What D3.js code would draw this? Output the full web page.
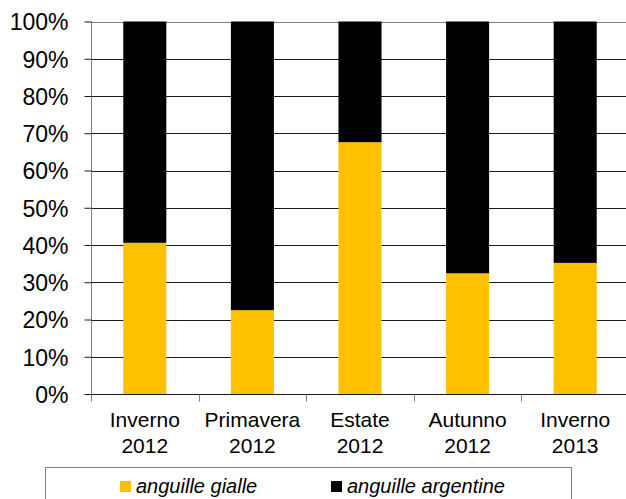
<!DOCTYPE html>
<html><head><meta charset="utf-8">
<script src="https://cdn.jsdelivr.net/npm/d3@7"></script>
<style>body{margin:0;background:#fff}svg{display:block}</style>
</head><body><svg id="c" width="626" height="499"></svg>
<script>
const categories = [["Inverno","2012"],["Primavera","2012"],["Estate","2012"],["Autunno","2012"],["Inverno","2013"]];
const gialle = [40.6, 22.5, 67.6, 32.4, 35.2];
const argentine = gialle.map(v => 100 - v);
const yTicks = [0,10,20,30,40,50,60,70,80,90,100];
const seriesNames = ["anguille gialle","anguille argentine"];
const colors = ["#FFC000","#000000"];

const svg = d3.select("#c");
const font = "Liberation Sans, Arial, sans-serif";
const x = d3.scaleBand().domain(d3.range(categories.length)).range([91, 629]).paddingInner(0.6).paddingOuter(0.3);
const y = d3.scaleLinear().domain([0,100]).range([394, 21.5]);

// gridlines
svg.append("g").selectAll("line").data(yTicks.slice(1)).join("line")
  .attr("x1", 91).attr("x2", 629)
  .attr("y1", d => Math.round(y(d)) + 0.5).attr("y2", d => Math.round(y(d)) + 0.5)
  .attr("stroke", d => d === 100 ? "#7f7f7f" : "#1a1a1a").attr("stroke-width", 1);

// bars
const stack = categories.map((c,i) => ({i, g: gialle[i], a: argentine[i]}));
const bars = svg.append("g");
bars.selectAll("rect.g").data(stack).join("rect").attr("class","g")
  .attr("x", d => x(d.i)).attr("width", x.bandwidth())
  .attr("y", d => y(d.g)).attr("height", d => y(0) - y(d.g))
  .attr("fill", colors[0]);
bars.selectAll("rect.a").data(stack).join("rect").attr("class","a")
  .attr("x", d => x(d.i)).attr("width", x.bandwidth())
  .attr("y", d => y(100)).attr("height", d => y(d.g) - y(100))
  .attr("fill", colors[1]);

// y axis
const yAxis = d3.axisLeft(y).tickValues(yTicks).tickFormat(d => d + "%").tickSize(7).tickPadding(16);
const ya = svg.append("g").attr("transform","translate(91.5,0)").call(yAxis);
ya.select(".domain").attr("stroke","#7f7f7f").attr("d","M0,21.5V394");
ya.selectAll(".tick line").attr("stroke","#1a1a1a");
ya.selectAll(".tick text").attr("font-family", font).attr("font-size", 23).attr("fill","#000").attr("dy","0.36em");

// x axis
const xAxis = d3.axisBottom(x).tickSize(0).tickFormat("");
const xa = svg.append("g").attr("transform","translate(0,394.5)").call(xAxis);
xa.select(".domain").attr("stroke","#1a1a1a").attr("d","M91,0H629");
const bounds = d3.range(categories.length + 1).map(i => 91 + i * x.step());
xa.selectAll("line.sep").data(bounds).join("line").attr("class","sep")
  .attr("x1", d => Math.round(d)+0.5).attr("x2", d => Math.round(d)+0.5)
  .attr("y1", 0).attr("y2", 7).attr("stroke","#7f7f7f");
const lab = svg.append("g");
categories.forEach((c, i) => {
  const t = lab.append("text").attr("x", x(i) + x.bandwidth()/2).attr("y", 427)
    .attr("text-anchor","middle").attr("font-family", font).attr("font-size", 21).attr("fill","#000");
  t.append("tspan").attr("x", x(i) + x.bandwidth()/2).text(c[0]);
  t.append("tspan").attr("x", x(i) + x.bandwidth()/2).attr("dy", 26).text(c[1]);
});

// legend
const lg = svg.append("g");
lg.append("rect").attr("x",45.5).attr("y",467.5).attr("width",526).attr("height",60)
  .attr("fill","none").attr("stroke","#7f7f7f");
const legX = [120, 331];
seriesNames.forEach((n, i) => {
  lg.append("rect").attr("x", legX[i]).attr("y", 481).attr("width", 11).attr("height", 11).attr("fill", colors[i]);
  lg.append("text").attr("x", legX[i] + 16).attr("y", 493).attr("font-family", font)
    .attr("font-size", 20).attr("font-style","italic").attr("fill","#000").text(n);
});
</script></body></html>
